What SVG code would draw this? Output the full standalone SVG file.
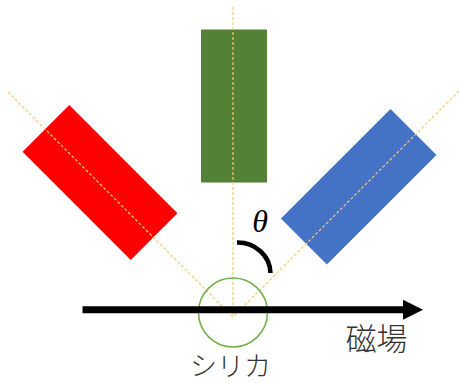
<svg xmlns="http://www.w3.org/2000/svg" width="459" height="383" viewBox="0 0 459 383">
<style>
.guide{fill:none;stroke:#F2CB6E;stroke-width:1.2;stroke-dasharray:3 2}
.label{font-family:"Noto Sans CJK JP","Noto Sans",sans-serif;font-weight:300;fill:#333}
</style>
<defs>
<marker id="ah" markerWidth="20" markerHeight="20" refX="0" refY="10" orient="auto" markerUnits="userSpaceOnUse">
<path d="M0,0 L20,10 L0,20 Z" fill="#000"/>
</marker>
</defs>
<rect width="459" height="383" fill="#fff"/>
<g id="red-block"><rect x="-33" y="-76.5" width="66" height="153" fill="#FF0000" transform="translate(100,182.5) rotate(-45)"/></g>
<g id="green-block"><rect x="201" y="29.5" width="66" height="153" fill="#538135"/></g>
<g id="blue-block"><rect x="-32.5" y="-77.5" width="65" height="155" fill="#4472C4" transform="translate(358.7,186.7) rotate(45)"/></g>
<g id="guides">
<line class="guide" x1="233" y1="7" x2="233" y2="317"/>
<line class="guide" x1="8" y1="92" x2="233" y2="317"/>
<line class="guide" x1="459" y1="91" x2="233" y2="317"/>
</g>
<g id="silica">
<circle cx="233" cy="312.5" r="34.5" fill="none" stroke="#70AD47" stroke-width="1.5"/>
<text class="label" x="190" y="376" font-size="27">シリカ</text>
</g>
<g id="connectors">
<line x1="82.5" y1="309.7" x2="403" y2="309.7" stroke="#000" stroke-width="7" marker-end="url(#ah)"/>
</g>
<g id="field-label"><text class="label" x="345.5" y="349.5" font-size="31">磁場</text></g>
<g id="angle">
<path d="M237,242.5 A33,31 0 0 1 270.5,273" fill="none" stroke="#000" stroke-width="4.5"/>
<text x="260" y="232" font-family="Liberation Serif,serif" font-style="italic" font-size="32" text-anchor="middle" fill="#000">θ</text>
</g>
</svg>
